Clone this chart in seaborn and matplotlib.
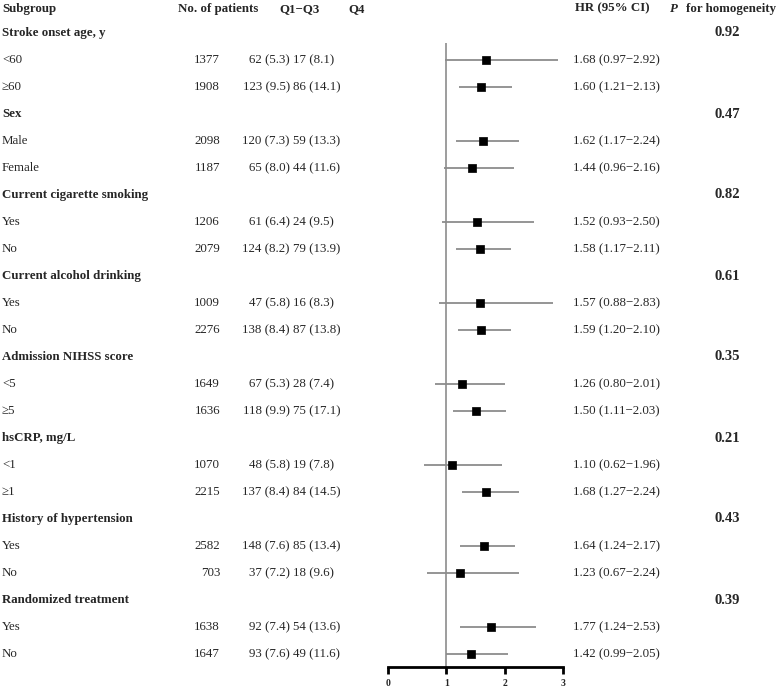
import numpy as np
import pandas as pd
import seaborn as sns
import matplotlib.pyplot as plt
from matplotlib import transforms

# data
groups = ["Stroke onset age, y", "Sex", "Current cigarette smoking", "Current alcohol drinking",
          "Admission NIHSS score", "hsCRP, mg/L", "History of hypertension", "Randomized treatment"]
p_homog = ["0.92", "0.47", "0.82", "0.61", "0.35", "0.21", "0.43", "0.39"]
subgroups = ["<60", "\u226560", "Male", "Female", "Yes", "No", "Yes", "No",
             "<5", "\u22655", "<1", "\u22651", "Yes", "No", "Yes", "No"]
n_patients = [1377, 1908, 2098, 1187, 1206, 2079, 1009, 2276,
              1649, 1636, 1070, 2215, 2582, 703, 1638, 1647]
q13 = ["62 (5.3)", "123 (9.5)", "120 (7.3)", "65 (8.0)", "61 (6.4)", "124 (8.2)", "47 (5.8)", "138 (8.4)",
       "67 (5.3)", "118 (9.9)", "48 (5.8)", "137 (8.4)", "148 (7.6)", "37 (7.2)", "92 (7.4)", "93 (7.6)"]
q4 = ["17 (8.1)", "86 (14.1)", "59 (13.3)", "44 (11.6)", "24 (9.5)", "79 (13.9)", "16 (8.3)", "87 (13.8)",
      "28 (7.4)", "75 (17.1)", "19 (7.8)", "84 (14.5)", "85 (13.4)", "18 (9.6)", "54 (13.6)", "49 (11.6)"]
hr = [1.68, 1.60, 1.62, 1.44, 1.52, 1.58, 1.57, 1.59, 1.26, 1.50, 1.10, 1.68, 1.64, 1.23, 1.77, 1.42]
lo = [0.97, 1.21, 1.17, 0.96, 0.93, 1.17, 0.88, 1.20, 0.80, 1.11, 0.62, 1.27, 1.24, 0.67, 1.24, 0.99]
hi = [2.92, 2.13, 2.24, 2.16, 2.50, 2.11, 2.83, 2.10, 2.01, 2.03, 1.96, 2.24, 2.17, 2.24, 2.53, 2.05]
xticks = [0, 1, 2, 3]

# row index: 0 = header, each group takes 3 rows (title + 2 subgroups)
group_rows = [1 + 3 * g for g in range(len(groups))]
sub_rows = [2 + 3 * (i // 2) + (i % 2) for i in range(len(subgroups))]

df = pd.DataFrame({"row": sub_rows, "hr": hr, "lo": lo, "hi": hi})

sns.set_style("white")
plt.rcParams["font.family"] = ["Liberation Serif", "DejaVu Serif"]

W, H = 783, 690
fig = plt.figure(figsize=(W / 100, H / 100), dpi=100)

# page axes in pixel units for the text columns
page = fig.add_axes([0, 0, 1, 1])
page.set_xlim(0, W)
page.set_ylim(H, 0)
page.axis("off")

# forest plot axes
fx0, fx1, ftop, fbot = 388, 563, 43, 667
ax = fig.add_axes([fx0 / W, 1 - fbot / H, (fx1 - fx0) / W, (fbot - ftop) / H])
ax.set_ylim((fbot - 6) / 27, (ftop - 6) / 27)
ax.set_xlim(0, 3)

ax.axvline(1, color="#8c8c8c", lw=1.2, zorder=1)
ax.hlines(df["row"], df["lo"], df["hi"], color="#8c8c8c", lw=1.3, zorder=2)
sns.scatterplot(data=df, x="hr", y="row", marker="s", s=40, color="black",
                edgecolor="black", ax=ax, zorder=3, legend=False)

for s in ["left", "right", "top"]:
    ax.spines[s].set_visible(False)
ax.spines["bottom"].set_linewidth(2)
ax.spines["bottom"].set_color("black")
ax.set_xticks(xticks)
ax.set_xticklabels([str(t) for t in xticks], fontsize=7, fontweight="bold")
ax.tick_params(axis="x", direction="out", length=5, width=2, color="black", pad=4, bottom=True)
ax.set_yticks([])
ax.set_xlabel("")
ax.set_ylabel("")

# text columns: x in page pixels, y in forest rows
tr = transforms.blended_transform_factory(page.transData, ax.transData)
fs = 9.3
kw = dict(transform=tr, va="center", clip_on=False, fontsize=fs)

hdr_y = 0.1
ax.text(2, hdr_y, "Subgroup", ha="left", fontweight="bold", **kw)
ax.text(218, hdr_y, "No. of patients", ha="center", fontweight="bold", **kw)
ax.text(300, hdr_y, "Q1\u2212Q3", ha="center", fontweight="bold", **kw)
ax.text(357, hdr_y, "Q4", ha="center", fontweight="bold", **kw)
ax.text(575, hdr_y, "HR (95% CI)", ha="left", fontweight="bold", **kw)
ax.text(670, hdr_y, "P", ha="left", fontweight="bold", fontstyle="italic", **kw)
ax.text(686, hdr_y, "for homogeneity", ha="left", fontweight="bold", **kw)

for g, r in enumerate(group_rows):
    ax.text(2, r, groups[g], ha="left", fontweight="bold", **kw)
    ax.text(727, r, p_homog[g], ha="center", fontweight="bold",
            transform=tr, va="center", clip_on=False, fontsize=10.5)

for i, r in enumerate(sub_rows):
    ax.text(2, r, subgroups[i], ha="left", **kw)
    ax.text(220, r, str(n_patients[i]), ha="right", **kw)
    ax.text(290, r, q13[i], ha="right", **kw)
    ax.text(293, r, q4[i], ha="left", **kw)
    ax.text(573, r, f"{hr[i]:.2f} ({lo[i]:.2f}\u2212{hi[i]:.2f})", ha="left", **kw)

fig.savefig("out.png", dpi=100)
